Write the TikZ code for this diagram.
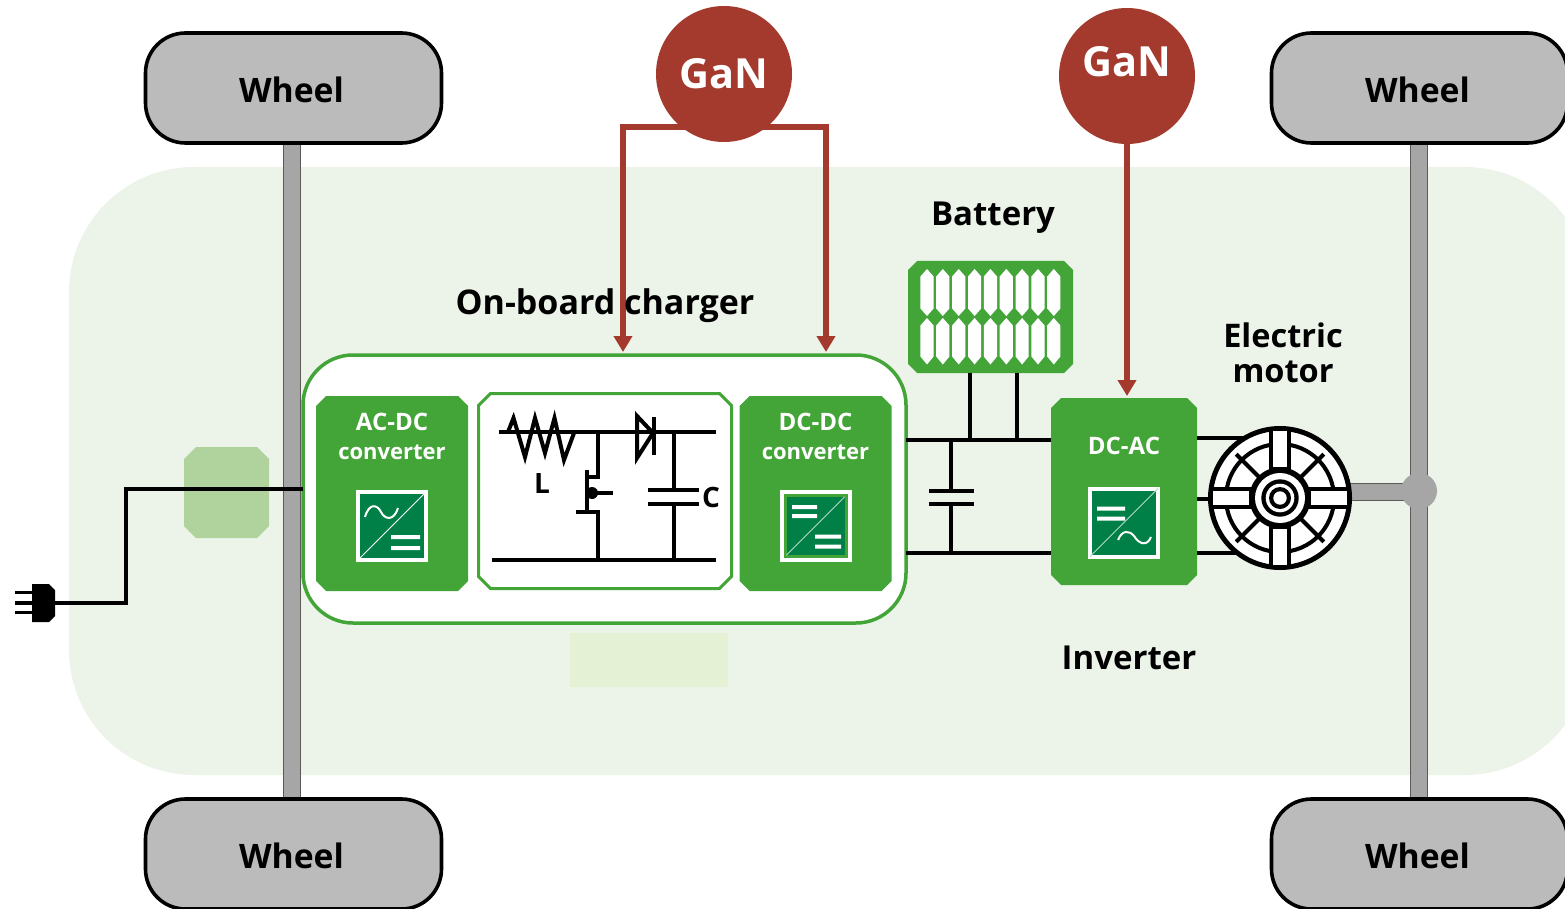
\documentclass[tikz,border=0pt]{standalone}
\usepackage{fontspec}
\setmainfont{Open Sans}
\usetikzlibrary{arrows.meta}
\definecolor{bggreen}{HTML}{ECF4E9}
\definecolor{blockgreen}{HTML}{43A537}
\definecolor{icongreen}{HTML}{008047}
\definecolor{gancol}{HTML}{A33A2D}
\definecolor{wheelgrey}{HTML}{BBBBBB}
\definecolor{axlegrey}{HTML}{A6A6A6}
\definecolor{axleedge}{HTML}{5A5A5A}
\definecolor{patcha}{HTML}{B0D29C}
\definecolor{patchb}{HTML}{E5F1D5}
\newcommand{\px}[1]{\fontsize{#1}{#1}\selectfont\bfseries}
\newcommand{\wlabel}{\raisebox{-14.5pt}[0pt][0pt]{Wheel\kern 4pt}}
% \chbox{options}{name}{cx}{cy}{w}{h}{chamfer}: a named box with cut corners
\newcommand{\chbox}[7]{%
  \node[minimum width=#5pt,minimum height=#6pt,inner sep=0pt,outer sep=0pt] (#2) at (#3,#4) {};
  \path[#1] ([xshift=#7pt]#2.north west) -- ([xshift=-#7pt]#2.north east) -- ([yshift=-#7pt]#2.north east)
    -- ([yshift=#7pt]#2.south east) -- ([xshift=-#7pt]#2.south east) -- ([xshift=#7pt]#2.south west)
    -- ([yshift=#7pt]#2.south west) -- ([yshift=-#7pt]#2.north west) -- cycle;
}
\tikzset{
  wheelbox/.style={draw=black,line width=3.6pt,fill=wheelgrey,rounded corners=40pt,minimum width=296pt,minimum height=110pt,inner sep=0pt,outer sep=0pt,font=\px{33.7}},
  axlebar/.style={draw=axleedge,line width=1pt,fill=axlegrey,minimum width=17pt,inner sep=0pt,outer sep=0pt},
  gblock/.style={fill=blockgreen,draw=none},
  ganc/.style={circle,fill=gancol,minimum size=136pt,inner sep=0pt,outer sep=0pt,text=white},
  redline/.style={draw=gancol,line width=5.5pt},
  redarrow/.style={redline,-{Triangle[length=16pt,width=18pt]}},
  wire/.style={draw=black,line width=4pt},
  thinwire/.style={draw=black,line width=3.4pt},
  blocktxt/.style={text=white,font=\px{24},align=center,inner sep=0pt},
  lbl/.style={text=black,font=\px{34},align=center,inner sep=0pt},
  icon/.style={draw=white,line width=4pt,fill=icongreen,minimum size=68pt,inner sep=0pt,outer sep=0pt},
  iconw/.style={draw=white,line width=2pt},
  cell/.style={fill=white,draw=none},
  sp/.style={draw=black,line width=4pt},
}
\begin{document}
\begin{tikzpicture}[x=1pt,y=-1pt]
\useasboundingbox (0,0) rectangle (1565,909);
\clip (0,0) rectangle (1565,909);
% vehicle body
\node[fill=bggreen,rounded corners=125pt,minimum width=1521pt,minimum height=608pt,inner sep=0pt,outer sep=0pt] (body) at (829.5,471) {};
% pale patches
\chbox{fill=patcha}{patch}{226.5}{492.5}{85}{91}{12}
\node[fill=patchb,minimum width=158pt,minimum height=54pt,inner sep=0pt] (patch2) at (649,660) {};
% axles
\node[axlebar,minimum height=660pt] (axleL) at (292,471) {};
\node[axlebar,minimum height=660pt] (axleR) at (1418.5,471) {};
% shaft and hub
\node[draw=axleedge,line width=1pt,fill=axlegrey,minimum width=62pt,minimum height=17pt,inner sep=0pt,outer sep=0pt] (shaft) at (1376,491.5) {};
\node[circle,fill=axlegrey,minimum size=36pt,inner sep=0pt,outer sep=0pt] (hub) at (1419,491) {};
% wheels
\node[wheelbox] (w1) at (293.5,88) {\wlabel};
\node[wheelbox] (w2) at (293.5,854) {\wlabel};
\node[wheelbox] (w3) at (1419.5,88) {\wlabel};
\node[wheelbox] (w4) at (1419.5,854) {\wlabel};
% plug and mains wire
\node[minimum width=23pt,minimum height=38pt,inner sep=0pt,outer sep=0pt] (plug) at (43.5,603) {};
\fill[black] (plug.north west) -- ([xshift=-6pt]plug.north east) -- ([yshift=-6pt]plug.north east) -- ([yshift=6pt]plug.south east) -- ([xshift=-6pt]plug.south east) -- (plug.south west) -- cycle;
\coordinate (pa) at (15,592.5); \coordinate (pb) at (15,603); \coordinate (pc) at (15,612.5);
\draw[wire,line width=3pt] (pa) -- (plug.west |- pa);
\draw[wire,line width=3.5pt] (pb) -- (plug.west |- pb);
\draw[wire,line width=3pt] (pc) -- (plug.west |- pc);
% on-board charger
\node[draw=blockgreen,line width=3.5pt,fill=white,rounded corners=50pt,minimum width=603pt,minimum height=268pt,inner sep=0pt,outer sep=0pt] (obc) at (604.5,489) {};
\coordinate (bend1) at (126,489); \coordinate (bend2) at (126,603);
\draw[wire] (obc.west) -- (bend1) -- (bend2) -- (plug.east |- bend2);
\chbox{gblock}{acdc}{392}{493.5}{152}{195}{10}
\chbox{gblock}{dcdc}{815.5}{493.5}{152}{195}{10}
\chbox{draw=blockgreen,line width=3pt,fill=white}{mid}{605}{491}{253}{195}{12}
\node[blocktxt] (acdct) at (392,436.5) {AC-DC\\[5pt]{\px{22}converter}};
\node[blocktxt] (dcdct) at (815.5,436.5) {DC-DC\\[5pt]{\px{22}converter}};
% AC-DC icon
\node[icon] (ic1) at (392,526) {};
\draw[white,line width=1pt] (ic1.south west) -- (ic1.north east);
\draw[iconw] (365,517) .. controls (369,503) and (377,504) .. (381,512) .. controls (385,520) and (394,521) .. (398,508);
\fill[white] (391,535) rectangle (420,539) (391,546) rectangle (420,550);
% DC-DC icon
\node[icon,fill=blockgreen] (ic2) at (815.5,526) {};
\node[fill=icongreen,minimum size=58pt,inner sep=0pt] (ic2b) at (815.5,526) {};
\draw[white!70!icongreen,line width=1pt] (ic2b.south west) -- (ic2b.north east);
\fill[white] (792,505) rectangle (817,509) (792,514) rectangle (817,518);
\fill[white] (815,534.5) rectangle (841,538.5) (815,544.5) rectangle (841,548.5);
% circuit
\coordinate (t0) at (499,432); \coordinate (t1) at (716,432);
\coordinate (b0) at (492,560); \coordinate (b1) at (716,560);
\coordinate (sw) at (598,432); \coordinate (swb) at (598,560);
\coordinate (cp) at (674,432); \coordinate (cpb) at (674,560);
\draw[wire] (t0) -- (t1);
\draw[wire] (b0) -- (b1);
\draw[wire,line join=miter] (508,432) -- (513.5,418) -- (525,457) -- (535,418) -- (545,453) -- (554.5,418) -- (564,460) -- (574,433);
\draw[wire,line join=miter] (637,416) -- (653,433) -- (637,458) -- cycle;
\draw[wire] (654,417) -- (654,455);
\draw[wire] (sw) -- (598,477) -- (586,477);
\draw[wire] (587,470) -- (587,510);
\draw[wire] (576,512) -- (600,512);
\draw[wire] (598,512) -- (swb);
\fill[black] (592,493) circle (6);
\draw[wire] (592,493) -- (613,493);
\draw[wire] (cp) -- (674,490);
\draw[wire] (674,504) -- (cpb);
\draw[wire] (648,490) -- (699,490);
\draw[wire] (648,504) -- (699,504);
\node[text=black,font=\px{28},inner sep=0pt] (lL) at (542,484) {L};
\node[text=black,font=\px{28},inner sep=0pt] (lC) at (711,497) {C};
% DC link
\chbox{gblock}{dcac}{1124}{491.5}{146}{187}{10}
\chbox{fill=blockgreen}{batt}{990.5}{317}{165}{112}{9}
\coordinate (u0) at (906,440); \coordinate (d0) at (906,553);
\draw[thinwire] (u0) -- (dcac.west |- u0);
\draw[thinwire] (d0) -- (dcac.west |- d0);
\coordinate (ba) at (970,440); \coordinate (bb) at (1017,440);
\draw[thinwire] (batt.south -| ba) -- (ba);
\draw[thinwire] (batt.south -| bb) -- (bb);
\draw[thinwire] (951,440) -- (951,491);
\draw[thinwire] (951,504) -- (951,553);
\draw[wire] (929,491) -- (974,491);
\draw[wire] (929,504) -- (974,504);
% battery cells
\foreach \cx in {927,942.8,958.7,974.6,990.4,1006.3,1022.1,1038,1053.8}{
  \fill[cell] (\cx-6.6,276.5) -- (\cx,269) -- (\cx+6.6,276.5) -- (\cx+6.6,308.5) -- (\cx,316) -- (\cx-6.6,308.5) -- cycle;
  \fill[cell] (\cx-6.6,325.5) -- (\cx,318) -- (\cx+6.6,325.5) -- (\cx+6.6,356.5) -- (\cx,364.5) -- (\cx-6.6,356.5) -- cycle;
}
% DC-AC
\node[blocktxt] (dcact) at (1124,446) {DC-AC};
\node[icon] (ic3) at (1124,522.5) {};
\draw[white!70!icongreen,line width=1pt] (ic3.south west) -- (ic3.north east);
\fill[white] (1097,506.5) rectangle (1125,510.5) (1097,516.5) rectangle (1125,520.5);
\draw[iconw] (1118,540) .. controls (1122,530) and (1129,530) .. (1134,536) .. controls (1139,544) and (1147,547) .. (1151,537);
% motor wires
\coordinate (mo) at (1280,498);
\draw[thinwire] (1197,438) -- (1245,438);
\draw[thinwire] (1197,499) -- (1215,499);
\draw[thinwire] (1197,553) -- (1240,553);
% motor
\node[circle,draw=black,line width=5pt,fill=white,minimum size=139pt,inner sep=0pt,outer sep=0pt] (motor) at (mo) {};
\draw[sp] (mo) circle (54);
\foreach \a in {45,135,225,315}{\draw[sp] (mo) ++(\a:30) -- ++(\a:32);}
\foreach \a in {0,90,180,270}{
  \begin{scope}[shift={(mo)},rotate=\a]
    \fill[black] (28,-11) rectangle (69,11);
    \fill[white] (31,-7) rectangle (67,7);
  \end{scope}
}
\fill[black] (mo) circle (30.7);
\fill[white] (mo) circle (25);
\fill[black] (mo) circle (18.7);
\fill[white] (mo) circle (14.3);
\fill[black] (mo) circle (11);
\fill[white] (mo) circle (6.7);
% GaN feeds
\coordinate (ra) at (623,127); \coordinate (rb) at (826,127);
\coordinate (rae) at (623,352); \coordinate (rbe) at (826,352);
\draw[redline,line cap=rect] (ra) -- (rb);
\draw[redarrow] (ra) -- (rae);
\draw[redarrow] (rb) -- (rbe);
\node[ganc,font=\px{41.5}] (g1) at (724,74) {GaN};
\node[ganc] (g2) at (1127,76) {};
\node[text=white,font=\px{41.5},inner sep=0pt] (g2t) at (1127,62) {GaN};
\coordinate (rc) at (1127,396);
\draw[redarrow] (g2.south) -- (rc);
% labels
\node[lbl] (lobc) at (605,306) {On-board charger};
\node[lbl,font=\px{33}] (lbat) at (993,218) {Battery};
\node[lbl,font=\px{32.5}] (lem) at (1283,353) {Electric\\[2pt]motor};
\node[lbl,font=\px{33}] (linv) at (1129,658) {Inverter};
\end{tikzpicture}
\end{document}
